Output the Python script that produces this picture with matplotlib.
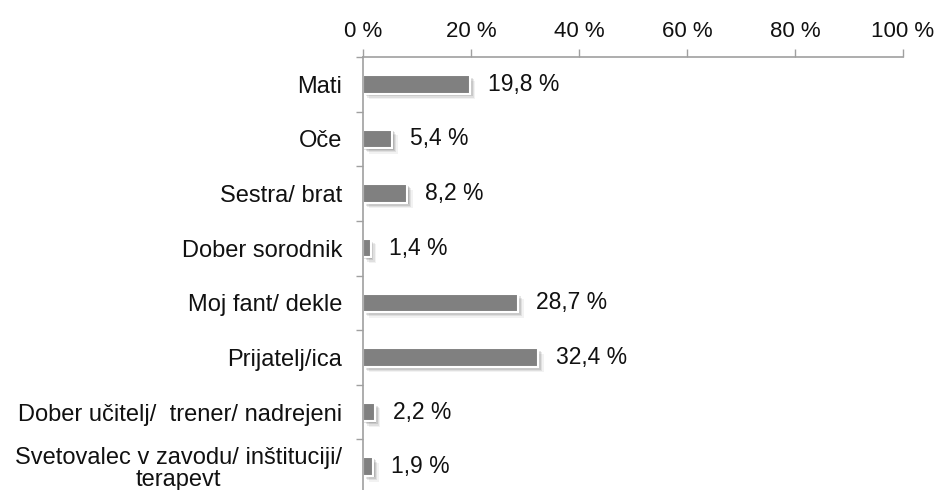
import matplotlib
matplotlib.use("Agg")
import matplotlib.pyplot as plt
import matplotlib.patheffects as pe

categories = ["Mati", "Oče", "Sestra/ brat", "Dober sorodnik", "Moj fant/ dekle",
              "Prijatelj/ica", "Dober učitelj/  trener/ nadrejeni",
              "Svetovalec v zavodu/ inštituciji/\nterapevt"]
values = [19.8, 5.4, 8.2, 1.4, 28.7, 32.4, 2.2, 1.9]
xticks = [0, 20, 40, 60, 80, 100]

plt.rcParams['font.family'] = ['Liberation Sans', 'DejaVu Sans']

fig = plt.figure(figsize=(9.38, 4.9), dpi=100)
ax = fig.add_axes([363/938, 1 - 494/490, 540/938, (494 - 57)/490])

ypos = list(range(len(categories)))
bars = ax.barh(ypos, values, height=0.34, color="#808080", edgecolor="white", linewidth=1.5)
shadow = []
for k, a in [(1.0, 0.12), (2.0, 0.10), (3.0, 0.08), (4.0, 0.05)]:
    shadow.append(pe.SimplePatchShadow(offset=(k, -k), shadow_rgbFace="black", alpha=a))
for b in bars:
    b.set_path_effects(shadow + [pe.Normal()])

for y, v in zip(ypos, values):
    ax.annotate(f"{v:.1f} %".replace(".", ","), xy=(v, y), xytext=(13, 0),
                textcoords="offset points", va="center", ha="left", fontsize=16.5, color="#111111")

ax.set_xlim(0, 100)
ax.set_ylim(len(categories) - 0.5, -0.5)
ax.xaxis.tick_top()
ax.set_xticks(xticks)
ax.set_xticklabels([f"{t} %" for t in xticks], fontsize=16, color="#111111")
ax.set_yticks(ypos)
ax.set_yticklabels(categories, fontsize=17, color="#111111", multialignment="center",
                   linespacing=1.0)
ax.tick_params(axis="y", length=0, pad=15)
ax.set_yticks([i + 0.5 for i in range(-1, len(categories))], minor=True)
ax.tick_params(axis="y", which="minor", length=5, color="#a0a0a0", width=1)
ax.tick_params(axis="x", length=6, color="#a0a0a0", width=1, pad=5)

for s in ["right", "bottom"]:
    ax.spines[s].set_visible(False)
for s in ["top", "left"]:
    ax.spines[s].set_color("#a0a0a0")
    ax.spines[s].set_linewidth(1.2)

fig.savefig("out.png", dpi=100)
